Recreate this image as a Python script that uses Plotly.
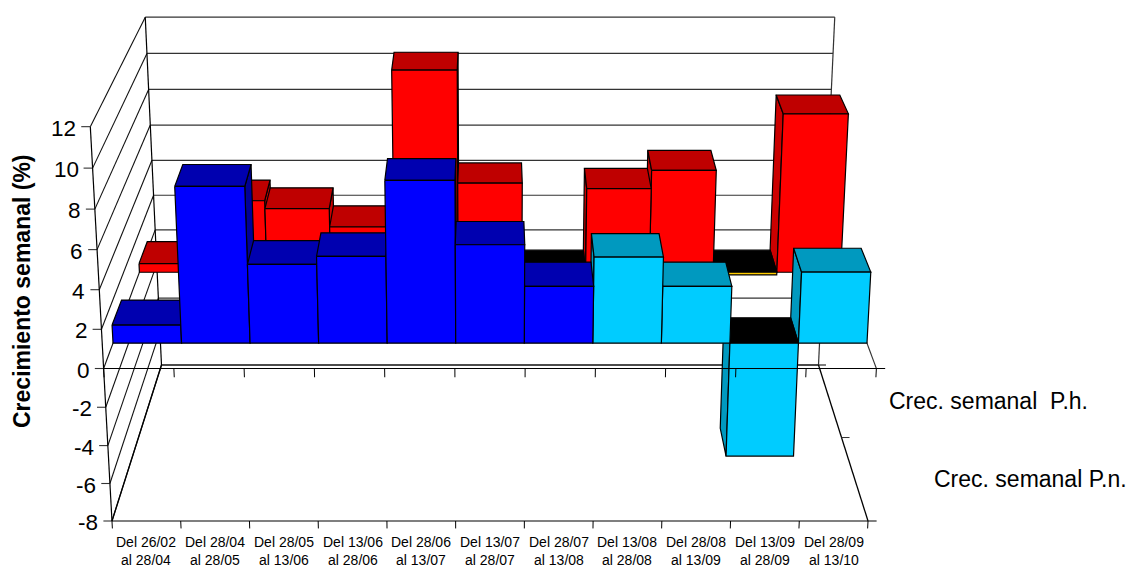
import plotly.graph_objects as go

categories = ["Del 26/02<br>al 28/04", "Del 28/04<br>al 28/05", "Del 28/05<br>al 13/06", "Del 13/06<br>al 28/06",
              "Del 28/06<br>al 13/07", "Del 13/07<br>al 28/07", "Del 28/07<br>al 13/08", "Del 13/08<br>al 28/08",
              "Del 28/08<br>al 13/09", "Del 13/09<br>al 28/09", "Del 28/09<br>al 13/10"]
crec_ph = [0.48, 3.95, 3.52, 2.51, 10.97, 4.91, -0.15, 4.61, 5.6, -0.15, 8.65]
crec_pn = [0.95, 8.04, 4.09, 4.5, 8.34, 5.09, 2.96, 4.46, 2.96, -6.01, 3.69]
value_ticks = [12, 10, 8, 6, 4, 2, 0, -2, -4, -6, -8]
series_names = ["Crec. semanal  P.h.", "Crec. semanal P.n."]

FONT = "Liberation Sans"
V_MIN, V_MAX = -8, 12
N = len(categories)
CX, A, B, C, E, P_, Q = 490.0, 68.73, 521.0, -101.0, -20.06, 0.1507, -0.00271


def proj(u, d, v):
    """Oblique perspective of the 3-D chart box: category u, depth d (0-1), value v."""
    z = v - V_MIN
    w = 1 + P_ * d + Q * z
    return CX + (u - N / 2) * A / w, (B + C * d + E * z) / w


traces = []


def line(points, color="#000000", width=1.1):
    pts = [proj(*p) for p in points]
    traces.append(go.Scatter(x=[p[0] for p in pts], y=[p[1] for p in pts], mode="lines",
                             line=dict(color=color, width=width), hoverinfo="skip"))


def face(points, color):
    pts = [proj(*p) for p in points]
    pts.append(pts[0])
    traces.append(go.Scatter(x=[p[0] for p in pts], y=[p[1] for p in pts], mode="lines", fill="toself",
                             fillcolor=color, line=dict(color="#000000", width=1.2), hoverinfo="skip"))


# back wall gridlines, left wall hatching, box edges
for t in value_ticks:
    line([(0, 1, t), (N, 1, t)], "#333333", 1.2)
    line([(0, 0, t), (0, 1, t)], "#111111", 1.1)
    line([(-0.125, 0, t), (0, 0, t)], "#333333", 1.1)
line([(0, 1, V_MIN), (N + 0.125, 1, V_MIN)], "#000000", 1.2)
line([(0, 1, V_MIN), (0, 1, V_MAX)], "#000000", 1.2)
line([(N, 1, V_MIN), (N, 1, V_MAX)], "#333333", 1.2)
line([(0, 0, V_MIN), (0, 0, V_MAX)], "#000000", 1.2)
line([(0, 0, V_MIN), (0, 1, V_MIN)], "#000000", 1.3)
line([(N, 0, V_MIN), (N, 1, V_MIN)], "#000000", 1.3)
line([(N, 0, 0), (N, 1, 0)], "#333333", 1.1)
line([(N, 0.5, V_MIN), (N + 0.125, 0.5, V_MIN)], "#333333", 1)


def bar(i, d0, d1, val, front, top, side):
    top_val = max(val, 0)
    low_val = min(val, 0)
    centre = i + 0.5 - N / 2
    if centre < 0:
        su = i + 1
    elif centre > 0:
        su = i
    else:
        su = None
    if su is not None:
        face([(su, d0, top_val), (su, d1, top_val), (su, d1, low_val), (su, d0, low_val)], side)
    face([(i, d0, top_val), (i + 1, d0, top_val), (i + 1, d1, top_val), (i, d1, top_val)],
         top if val >= 0 else "#000000")
    face([(i, d0, top_val), (i + 1, d0, top_val), (i + 1, d0, low_val), (i, d0, low_val)], front)


order = [0, 1, 2, 3, 4, 10, 9, 8, 7, 6, 5]
for i in order:
    gold = i == 9
    bar(i, 0.663, 0.835, crec_ph[i], "#FFCC00" if gold else "#FF0000", "#BF0000", "#CC0000")
for i in order:
    cyan = i >= 7
    bar(i, 0.162, 0.333, crec_pn[i], "#00CCFF" if cyan else "#0000FF", "#0099BF" if cyan else "#0000B0",
        "#0099BF" if cyan else "#000099")

# category axes on top of the bars
line([(0, 0, 0), (N + 0.125, 0, 0)], "#000000", 1.1)
line([(0, 0, V_MIN), (N + 0.125, 0, V_MIN)], "#000000", 1.2)
for i in range(N + 1):
    line([(i, 0, 0), (i, 0, -0.45)], "#000000", 1)
    line([(i, 0, V_MIN), (i, 0, V_MIN - 0.4)], "#000000", 1)

ann = []
for t in value_ticks:
    x, y = proj(-0.125, 0, t)
    ann.append(dict(x=x - 3, y=y + 1.5, text=str(t), xanchor="right", yanchor="middle", showarrow=False,
                    xref="x", yref="y", font=dict(family=FONT, size=22.5, color="#000000")))
for i, c in enumerate(categories):
    x, _ = proj(i + 0.5, 0, V_MIN)
    ann.append(dict(x=x, y=532, text=c, xanchor="center", yanchor="top", showarrow=False, xref="x", yref="y",
                    align="center", font=dict(family=FONT, size=14, color="#000000")))
ann.append(dict(x=22, y=291, text="<b>Crecimiento semanal (%)</b>", textangle=-90, showarrow=False,
                xref="x", yref="y", xanchor="center", yanchor="middle",
                font=dict(family=FONT, size=23, color="#000000")))
ann.append(dict(x=887, y=401, text=series_names[0], xanchor="left", yanchor="middle", showarrow=False,
                xref="x", yref="y", font=dict(family=FONT, size=23, color="#000000")))
ann.append(dict(x=932, y=479, text=series_names[1], xanchor="left", yanchor="middle", showarrow=False,
                xref="x", yref="y", font=dict(family=FONT, size=23, color="#000000")))

fig = go.Figure(traces)
fig.update_layout(width=1128, height=565, margin=dict(l=0, r=0, t=0, b=0), showlegend=False,
                  paper_bgcolor="#FFFFFF", plot_bgcolor="#FFFFFF", annotations=ann, hovermode=False,
                  xaxis=dict(range=[0, 1128], visible=False, fixedrange=True),
                  yaxis=dict(range=[565, 0], visible=False, fixedrange=True))
fig.write_html("out.html", config={"displayModeBar": False},
               post_script="document.body.style.margin='0';document.documentElement.style.overflow='hidden';")
